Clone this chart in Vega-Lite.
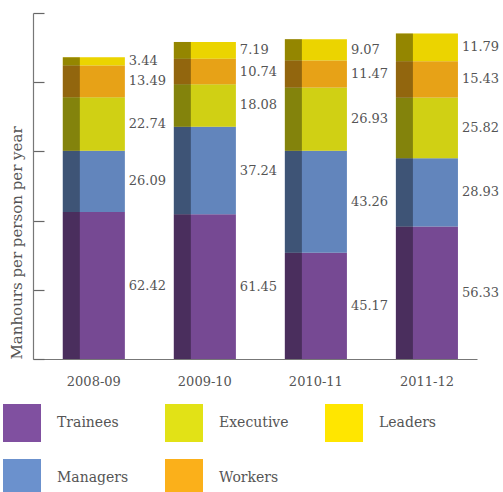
{
  "$schema": "https://vega.github.io/schema/vega-lite/v6.json",
  "autosize": {"type": "none"},
  "padding": {"left": 33, "top": 13, "right": 26, "bottom": 133},
  "width": 444,
  "height": 346,
  "background": "white",
  "config": {
    "view": {"stroke": null},
    "font": "DejaVu Serif"
  },
  "data": {
    "values": [
      {"year": "2008-09", "series": "Trainees", "value": 62.42, "ord": 1},
      {"year": "2008-09", "series": "Managers", "value": 26.09, "ord": 2},
      {"year": "2008-09", "series": "Executive", "value": 22.74, "ord": 3},
      {"year": "2008-09", "series": "Workers", "value": 13.49, "ord": 4},
      {"year": "2008-09", "series": "Leaders", "value": 3.44, "ord": 5},
      {"year": "2009-10", "series": "Trainees", "value": 61.45, "ord": 1},
      {"year": "2009-10", "series": "Managers", "value": 37.24, "ord": 2},
      {"year": "2009-10", "series": "Executive", "value": 18.08, "ord": 3},
      {"year": "2009-10", "series": "Workers", "value": 10.74, "ord": 4},
      {"year": "2009-10", "series": "Leaders", "value": 7.19, "ord": 5},
      {"year": "2010-11", "series": "Trainees", "value": 45.17, "ord": 1},
      {"year": "2010-11", "series": "Managers", "value": 43.26, "ord": 2},
      {"year": "2010-11", "series": "Executive", "value": 26.93, "ord": 3},
      {"year": "2010-11", "series": "Workers", "value": 11.47, "ord": 4},
      {"year": "2010-11", "series": "Leaders", "value": 9.07, "ord": 5},
      {"year": "2011-12", "series": "Trainees", "value": 56.33, "ord": 1},
      {"year": "2011-12", "series": "Managers", "value": 28.93, "ord": 2},
      {"year": "2011-12", "series": "Executive", "value": 25.82, "ord": 3},
      {"year": "2011-12", "series": "Workers", "value": 15.43, "ord": 4},
      {"year": "2011-12", "series": "Leaders", "value": 11.79, "ord": 5}
    ]
  },
  "encoding": {
    "x": {
      "field": "year",
      "type": "nominal",
      "scale": {"paddingInner": 0.441, "paddingOuter": 0.22, "align": 0.61},
      "axis": {
        "title": null,
        "labelAngle": 0,
        "ticks": false,
        "labelPadding": 16,
        "labelFont": "DejaVu Serif",
        "labelFontSize": 13,
        "labelColor": "#555555",
        "domainColor": "#777777",
        "domainWidth": 1.2
      }
    },
    "y": {
      "field": "value",
      "type": "quantitative",
      "stack": "zero",
      "scale": {"domain": [0, 147], "nice": false},
      "axis": {
        "title": "Manhours per person per year",
        "titleFont": "DejaVu Serif",
        "titleFontSize": 15,
        "titleFontWeight": "normal",
        "titleColor": "#555555",
        "titleAnchor": "start",
        "titlePadding": 8,
        "labels": false,
        "grid": false,
        "values": [0, 29.4, 58.8, 88.2, 117.6, 147],
        "tickSize": -11,
        "tickColor": "#666666",
        "tickWidth": 1.2,
        "domainColor": "#777777",
        "domainWidth": 1.2
      }
    },
    "order": {"field": "ord", "type": "quantitative", "sort": "ascending"}
  },
  "layer": [
    {
      "mark": {"type": "bar"},
      "encoding": {
        "color": {
          "field": "series",
          "type": "nominal",
          "scale": {
            "domain": ["Trainees", "Executive", "Leaders", "Managers", "Workers"],
            "range": ["#8050a0", "#e2e216", "#ffe600", "#6b91cd", "#fbb01a"]
          },
          "legend": {
            "title": null,
            "orient": "none",
            "legendX": -30,
            "legendY": 391,
            "direction": "horizontal",
            "columns": 3,
            "columnPadding": 36,
            "rowPadding": 17,
            "symbolType": "square",
            "symbolSize": 1444,
            "symbolStrokeWidth": 0,
            "symbolOpacity": 1,
            "labelOffset": 16,
            "labelFont": "DejaVu Serif",
            "labelFontSize": 14,
            "labelColor": "#555555"
          }
        }
      }
    },
    {
      "mark": {"type": "bar", "color": "black", "opacity": 0.08},
      "encoding": {"detail": {"field": "series", "type": "nominal"}}
    },
    {
      "mark": {"type": "bar", "color": "black", "opacity": 0.37, "width": 17, "xOffset": -22.5},
      "encoding": {"detail": {"field": "series", "type": "nominal"}}
    },
    {
      "mark": {"type": "text", "align": "left", "baseline": "middle", "dx": 35, "font": "DejaVu Serif", "fontSize": 13, "color": "#555555"},
      "encoding": {
        "y": {"field": "value", "type": "quantitative", "stack": "zero", "bandPosition": 0.5},
        "detail": {"field": "series", "type": "nominal"},
        "text": {"field": "value", "type": "quantitative", "format": ".2f"}
      }
    }
  ]
}
